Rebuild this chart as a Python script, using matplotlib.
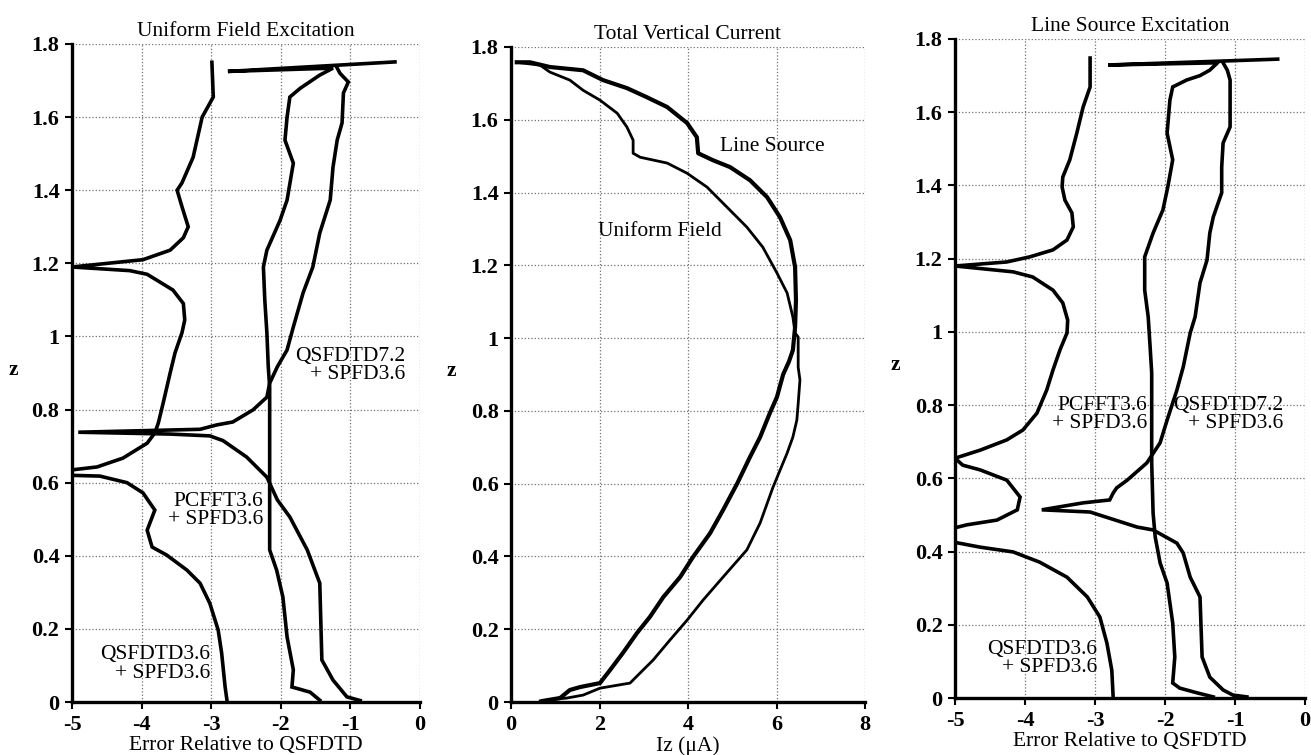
import matplotlib
matplotlib.use("Agg")
import matplotlib.pyplot as plt

plt.rcParams['font.family'] = ['Liberation Serif', 'DejaVu Serif']

# ---------------- data ----------------
# Panel 1: Uniform Field Excitation (error relative to QSFDTD vs z)
uf_q36_x = [-2.99, -2.97, -3.13, -3.26, -3.42, -3.49, -3.42, -3.33, -3.40, -3.59, -3.98, -5.0, -4.17, -3.92,
            -3.55, -3.40, -3.38, -3.42, -3.52, -3.59, -3.69, -3.76, -3.81, -3.92, -4.27, -4.64, -5.0, -5.0,
            -4.60, -4.21, -3.98, -3.81, -3.92, -3.85, -3.64, -3.35, -3.16, -3.02, -2.90, -2.85, -2.80, -2.77]
uf_q36_z = [1.75, 1.655, 1.60, 1.49, 1.42, 1.40, 1.355, 1.30, 1.27, 1.236, 1.21, 1.19, 1.18, 1.17,
            1.127, 1.09, 1.045, 1.01, 0.955, 0.90, 0.818, 0.763, 0.736, 0.708, 0.667, 0.643, 0.635, 0.62,
            0.618, 0.60, 0.572, 0.525, 0.47, 0.424, 0.402, 0.361, 0.325, 0.27, 0.197, 0.134, 0.041, 0.0]

uf_outer_x = [-1.20, -1.15, -1.03, -1.10, -1.12, -1.19, -1.25, -1.29, -1.44, -1.54, -1.68, -1.82, -1.91,
              -2.05, -2.16, -2.20, -2.40, -2.69, -2.92, -3.16, -4.91, -3.60, -3.02, -2.83, -2.49, -2.20,
              -2.05, -1.87, -1.62, -1.44, -1.41, -1.25, -1.05, -0.86]
uf_outer_z = [1.738, 1.72, 1.696, 1.666, 1.584, 1.537, 1.463, 1.373, 1.283, 1.19, 1.119, 1.026, 0.963,
              0.917, 0.872, 0.834, 0.799, 0.766, 0.758, 0.746, 0.738, 0.733, 0.728, 0.715, 0.67, 0.615,
              0.553, 0.506, 0.416, 0.325, 0.115, 0.060, 0.014, 0.004]

uf_inner_x = [-0.36, -2.76, -1.25, -1.44, -1.72, -1.87, -1.91, -1.94, -1.82, -1.91, -2.01, -2.20, -2.25,
              -2.23, -2.20, -2.18, -2.16, -2.16, -2.16, -2.06, -1.97, -1.91, -1.82, -1.84, -1.58, -1.44]
uf_inner_z = [1.751, 1.725, 1.734, 1.715, 1.679, 1.655, 1.60, 1.537, 1.474, 1.373, 1.318, 1.236, 1.19,
              1.10, 1.01, 0.917, 0.862, 0.635, 0.416, 0.361, 0.287, 0.178, 0.088, 0.041, 0.027, 0.005]

# Panel 2: Total vertical current Iz (uA) vs z
ls_iz = [0.13, 0.43, 0.88, 1.63, 2.08, 2.62, 3.07, 3.53, 3.98, 4.20, 4.23, 4.56, 4.95, 5.40, 5.79, 6.08,
         6.31, 6.42, 6.44, 6.42, 6.37, 6.28, 6.15, 6.01, 5.85, 5.63, 5.40, 5.11, 4.79, 4.50, 4.11, 3.82,
         3.44, 3.14, 2.85, 2.53, 2.24, 2.01, 1.56, 1.33, 1.11, 0.72]
ls_z = [1.758, 1.758, 1.745, 1.736, 1.709, 1.687, 1.662, 1.635, 1.591, 1.552, 1.508, 1.489, 1.47, 1.434,
        1.387, 1.332, 1.269, 1.195, 1.104, 1.03, 0.967, 0.935, 0.90, 0.838, 0.794, 0.728, 0.673, 0.60,
        0.527, 0.464, 0.398, 0.343, 0.288, 0.234, 0.19, 0.135, 0.088, 0.052, 0.041, 0.033, 0.011, 0.003]

uf_iz = [0.13, 0.66, 0.88, 1.33, 1.63, 2.01, 2.40, 2.62, 2.76, 2.76, 2.92, 3.53, 3.98, 4.43, 4.88, 5.33,
         5.69, 6.01, 6.24, 6.37, 6.42, 6.49, 6.49, 6.53, 6.49, 6.46, 6.37, 6.24, 5.92, 5.63, 5.33, 4.79,
         4.34, 3.98, 3.59, 3.21, 2.92, 2.69, 2.01, 1.63, 1.27, 0.66]
uf_z = [1.758, 1.75, 1.731, 1.709, 1.681, 1.654, 1.618, 1.58, 1.544, 1.508, 1.497, 1.481, 1.453, 1.415,
        1.36, 1.305, 1.25, 1.179, 1.124, 1.058, 1.014, 1.003, 0.92, 0.885, 0.82, 0.775, 0.728, 0.684, 0.59,
        0.492, 0.418, 0.343, 0.28, 0.225, 0.17, 0.115, 0.08, 0.052, 0.038, 0.019, 0.011, 0.003]

# Panel 3: Line Source Excitation
ls_q36_x = [-3.07, -3.07, -3.17, -3.26, -3.36, -3.46, -3.47, -3.43, -3.33, -3.31, -3.40, -3.60, -3.93,
            -4.26, -5.0, -4.17, -3.89, -3.60, -3.46, -3.39, -3.40, -3.50, -3.60, -3.69, -3.83, -4.03,
            -4.26, -4.64, -5.0, -4.89, -4.64, -4.26, -4.07, -4.11, -4.40, -4.83, -5.0, -5.0, -4.64, -4.17,
            -3.79, -3.40, -3.11, -2.93, -2.83, -2.76, -2.74]
ls_q36_z = [1.748, 1.669, 1.614, 1.543, 1.47, 1.423, 1.396, 1.36, 1.325, 1.287, 1.251, 1.224, 1.205,
            1.191, 1.18, 1.164, 1.15, 1.114, 1.079, 1.032, 0.997, 0.951, 0.896, 0.841, 0.778, 0.732,
            0.705, 0.677, 0.655, 0.636, 0.623, 0.595, 0.549, 0.514, 0.486, 0.473, 0.465, 0.425, 0.412,
            0.399, 0.371, 0.33, 0.276, 0.221, 0.15, 0.076, 0.0]

ls_outer_x = [-1.17, -1.11, -1.07, -1.07, -1.17, -1.19, -1.19, -1.31, -1.36, -1.40, -1.50, -1.57, -1.64,
              -1.74, -1.83, -1.97, -2.07, -2.26, -2.54, -2.69, -2.74, -2.79, -3.17, -3.76, -3.07, -2.40,
              -2.17, -1.83, -1.74, -1.64, -1.50, -1.47, -1.36, -1.17, -1.03, -0.83]
ls_outer_z = [1.735, 1.715, 1.688, 1.56, 1.516, 1.45, 1.38, 1.314, 1.27, 1.196, 1.134, 1.041, 0.997,
              0.904, 0.841, 0.759, 0.697, 0.642, 0.595, 0.574, 0.56, 0.541, 0.533, 0.514, 0.508, 0.467,
              0.459, 0.423, 0.396, 0.33, 0.276, 0.112, 0.057, 0.022, 0.008, 0.003]

ls_inner_x = [-0.39, -2.81, -1.25, -1.36, -1.50, -1.69, -1.89, -1.93, -1.97, -1.89, -1.96, -2.03, -2.17,
              -2.29, -2.29, -2.24, -2.21, -2.19, -2.19, -2.17, -2.14, -2.07, -1.97, -1.89, -1.86, -1.89,
              -1.79, -1.54, -1.31]
ls_inner_z = [1.745, 1.729, 1.735, 1.715, 1.70, 1.688, 1.669, 1.633, 1.543, 1.47, 1.396, 1.333, 1.27,
              1.205, 1.114, 1.041, 0.951, 0.888, 0.642, 0.505, 0.44, 0.369, 0.314, 0.205, 0.112, 0.041,
              0.027, 0.014, 0.003]

err_ticks = [-5, -4, -3, -2, -1, 0]
iz_ticks = [0, 2, 4, 6, 8]
z_ticks = [0, 0.2, 0.4, 0.6, 0.8, 1, 1.2, 1.4, 1.6, 1.8]
z_ticklabels = ['0', '0.2', '0.4', '0.6', '0.8', '1', '1.2', '1.4', '1.6', '1.8']

# ---------------- figure ----------------
W, H = 1311, 755
fig = plt.figure(figsize=(W / 100, H / 100), dpi=100)
FS = 15.5
LW = 2.6


def px_axes(left, top, right, bottom):
    return fig.add_axes([left / W, 1 - bottom / H, (right - left) / W, (bottom - top) / H])


def style(ax, xticks, xlim, title, xlabel):
    ax.set_xlim(*xlim)
    ax.set_ylim(0, 1.8)
    ax.set_xticks(xticks)
    ax.set_xticklabels([str(t) for t in xticks])
    ax.set_yticks(z_ticks)
    ax.set_yticklabels(z_ticklabels)
    for lab in ax.get_xticklabels() + ax.get_yticklabels():
        lab.set_fontsize(FS + 0.5)
        lab.set_fontweight('bold')
    ax.tick_params(direction='out', length=5, width=1.5, pad=4, color='black')
    ax.grid(True, linestyle=':', color='#707070', linewidth=0.9)
    ax.set_axisbelow(True)
    for s in ('top', 'right'):
        ax.spines[s].set_visible(False)
    for s in ('left', 'bottom'):
        ax.spines[s].set_linewidth(2.4)
        ax.spines[s].set_zorder(5)
    ax.set_title(title, fontsize=FS, pad=6)
    ax.set_xlabel(xlabel, fontsize=FS, labelpad=1)
    ax.set_ylabel('z', fontsize=FS, rotation=0, fontweight='bold')
    ax.yaxis.set_label_coords(-0.17, 0.49)


# Panel 1
ax1 = px_axes(72, 44, 420, 702)
ax1.plot(uf_q36_x, uf_q36_z, color='black', lw=LW, solid_joinstyle='miter')
ax1.plot(uf_outer_x, uf_outer_z, color='black', lw=LW, solid_joinstyle='miter')
ax1.plot(uf_inner_x, uf_inner_z, color='black', lw=LW, solid_joinstyle='miter')
style(ax1, err_ticks, (-5, 0), 'Uniform Field Excitation', 'Error Relative to QSFDTD')
ax1.text(-1.80, 0.92, 'QSFDTD7.2\n+ SPFD3.6', fontsize=FS, ha='left', va='center', linespacing=0.95,
         multialignment='right')
ax1.text(-2.25, 0.523, 'PCFFT3.6\n+ SPFD3.6', fontsize=FS, ha='right', va='center', linespacing=0.95,
         multialignment='right')
ax1.text(-3.02, 0.104, 'QSFDTD3.6\n+ SPFD3.6', fontsize=FS, ha='right', va='center', linespacing=0.95,
         multialignment='right')

# Panel 2
ax2 = px_axes(511, 47, 865, 702)
ax2.plot(ls_iz, ls_z, color='black', lw=LW + 0.4)
ax2.plot(uf_iz, uf_z, color='black', lw=LW - 0.6)
style(ax2, iz_ticks, (0, 8), 'Total Vertical Current', 'Iz (\u03bcA)')
ax2.text(4.72, 1.527, 'Line Source', fontsize=FS, ha='left', va='center')
ax2.text(1.97, 1.294, 'Uniform Field', fontsize=FS, ha='left', va='center')

# Panel 3
ax3 = px_axes(955, 39, 1305, 698)
ax3.plot(ls_q36_x, ls_q36_z, color='black', lw=LW, solid_joinstyle='miter')
ax3.plot(ls_outer_x, ls_outer_z, color='black', lw=LW, solid_joinstyle='miter')
ax3.plot(ls_inner_x, ls_inner_z, color='black', lw=LW, solid_joinstyle='miter')
style(ax3, err_ticks, (-5, 0), 'Line Source Excitation', 'Error Relative to QSFDTD')
ax3.text(-2.26, 0.775, 'PCFFT3.6\n+ SPFD3.6', fontsize=FS, ha='right', va='center', linespacing=0.95,
         multialignment='right')
ax3.text(-1.89, 0.775, 'QSFDTD7.2\n+ SPFD3.6', fontsize=FS, ha='left', va='center', linespacing=0.95,
         multialignment='right')
ax3.text(-2.97, 0.108, 'QSFDTD3.6\n+ SPFD3.6', fontsize=FS, ha='right', va='center', linespacing=0.95,
         multialignment='right')

fig.savefig('out.png', dpi=100)
